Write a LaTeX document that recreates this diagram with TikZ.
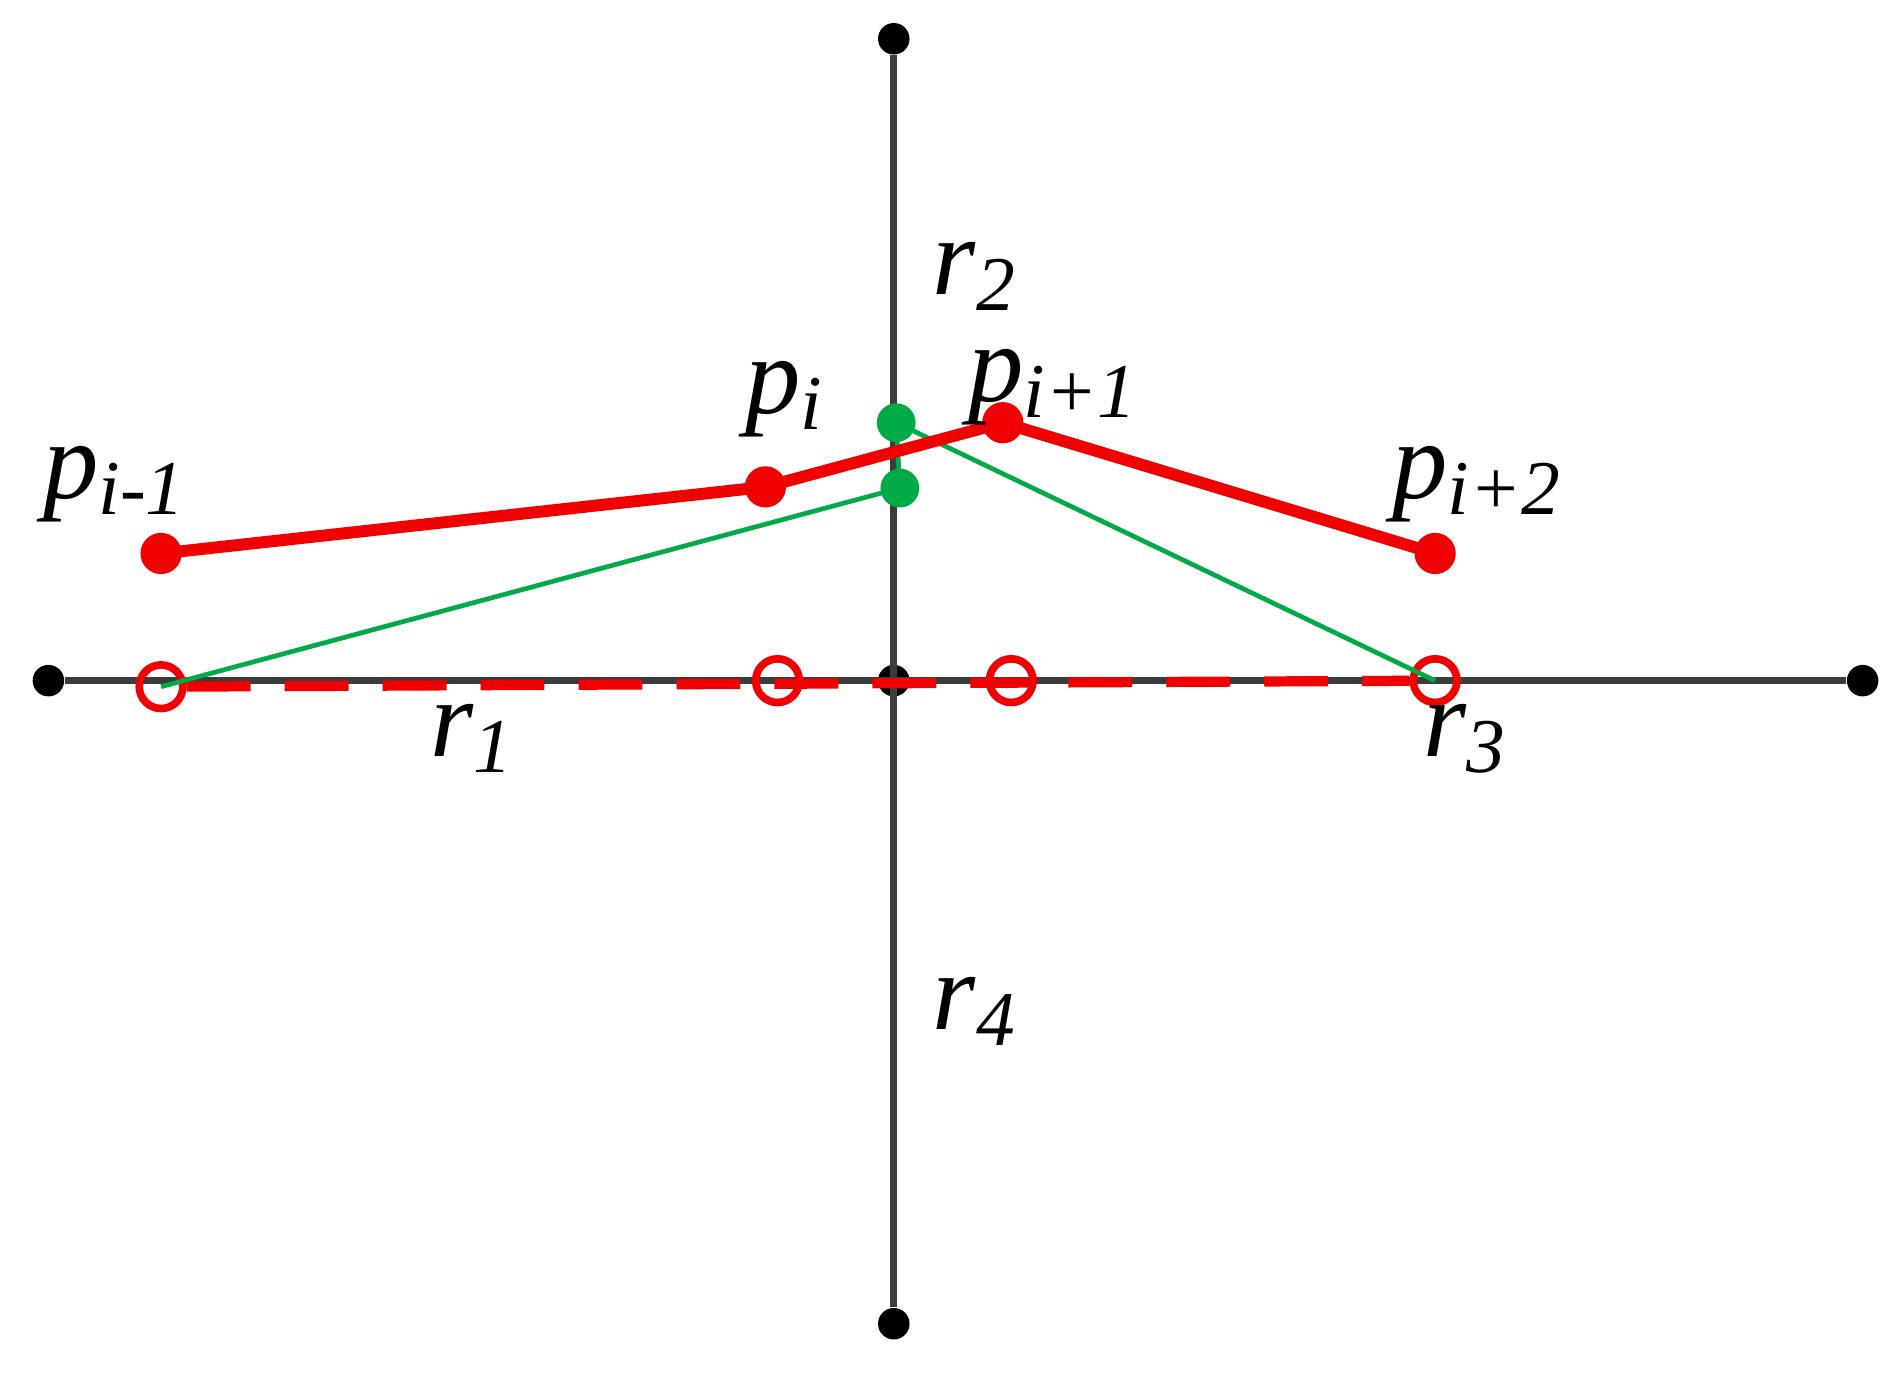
\documentclass[tikz,border=0pt]{standalone}
\usepackage{fontspec}
\setmainfont{Liberation Serif}
\definecolor{ptred}{RGB}{240,0,0}
\definecolor{ptgreen}{RGB}{0,170,70}
\definecolor{axisgray}{RGB}{60,60,60}
\tikzset{
	enddot/.style={circle, fill=black, inner sep=0pt, minimum size=0.26cm},
	reddot/.style={circle, fill=ptred, inner sep=0pt, minimum size=0.34cm},
	greendot/.style={circle, fill=ptgreen, inner sep=0pt, minimum size=0.32cm},
	opendot/.style={circle, draw=ptred, line width=1.8pt, inner sep=0pt, minimum size=0.36cm},
	lbl/.style={font=\fontsize{26}{30}\selectfont\itshape, inner sep=0pt}
}
\begin{document}
\begin{tikzpicture}[x=0.01cm, y=-0.01cm]
	\useasboundingbox (0,0) rectangle (1568,1135);
	% axes
	\node[enddot] (top) at (738,32) {};
	\node[enddot] (bot) at (738,1093) {};
	\node[enddot] (lft) at (40,562) {};
	\node[enddot] (rgt) at (1538,562) {};
	\node[enddot] (ctr) at (738,562) {};
	\draw[axisgray, line width=1.6pt] (top) -- (bot);
	\draw[axisgray, line width=1.6pt] (lft) -- (rgt);
	% projected points
	\node[opendot] (q1) at (133,567) {};
	\node[opendot] (q2) at (642,562) {};
	\node[opendot] (q3) at (835,562) {};
	\node[opendot] (q4) at (1185,562) {};
	\draw[ptred, line width=2.4pt, dash pattern=on 15pt off 8pt] (q1) -- (q4);
	% green
	\node[greendot] (g1) at (740,349) {};
	\node[greendot] (g2) at (743,403) {};
	\draw[ptgreen, line width=1.1pt] (q1.center) -- (g2.center);
	\draw[ptgreen, line width=1.1pt] (g1.center) -- (q4.center);
	\draw[ptgreen, line width=1.1pt] (g1.center) -- (g2.center);
	% polyline
	\node[reddot] (p0) at (133,457) {};
	\node[reddot] (p1) at (632,402) {};
	\node[reddot] (p2) at (828,349) {};
	\node[reddot] (p3) at (1185,457) {};
	\draw[ptred, line width=2.8pt] (p0.center) -- (p1.center) -- (p2.center) -- (p3.center);
	% labels
	\node[lbl] (lr2) at (805,228) {r\textsubscript{2}};
	\node[lbl] (lr1) at (390,610) {r\textsubscript{1}};
	\node[lbl] (lr3) at (1210,610) {r\textsubscript{3}};
	\node[lbl] (lr4) at (805,835) {r\textsubscript{4}};
	\node[lbl] (lp0) at (95,400) {p\textsubscript{i-1}};
	\node[lbl] (lp1) at (648,330) {p\textsubscript{i}};
	\node[lbl] (lp2) at (870,320) {p\textsubscript{i+1}};
	\node[lbl] (lp3) at (1220,400) {p\textsubscript{i+2}};
\end{tikzpicture}
\end{document}
